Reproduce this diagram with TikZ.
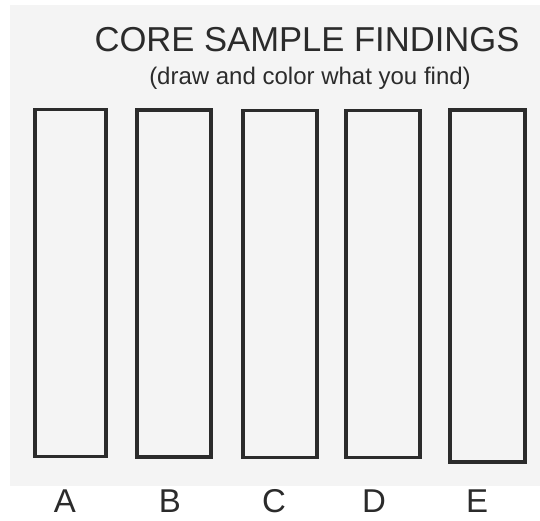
\documentclass[tikz,border=0pt]{standalone}
\usepackage{fontspec}
\setmainfont{Liberation Sans}
\usetikzlibrary{positioning}
\definecolor{inkgray}{HTML}{2B2B2B}
\definecolor{scanpaper}{HTML}{F4F4F4}

\tikzset{
  corebox/.style={draw=inkgray,line width=3.2pt,inner sep=0pt,minimum height=347pt},
  corelabel/.style={inkgray,font=\fontsize{33}{36}\selectfont,inner sep=0pt,anchor=base}
}

\begin{document}
\begin{tikzpicture}[x=1pt,y=-1pt]
\useasboundingbox (0,0) rectangle (540,520);
\fill[scanpaper] (10,5) rectangle (540,486);
\node[inkgray,font=\fontsize{34.6}{38}\selectfont,inner sep=0pt,anchor=base] (title) at (307,51){CORE SAMPLE FINDINGS};
\node[inkgray,font=\fontsize{24}{27}\selectfont,inner sep=0pt,anchor=base] (subtitle) at (310,84){(draw and color what you find)};
\node[corebox,minimum width=71pt] (coreA) at (70.5,283){};
\node[corebox,minimum width=74pt] (coreB) at (174,283.5){};
\node[corebox,minimum width=74pt] (coreC) at (280,284){};
\node[corebox,minimum width=74pt] (coreD) at (383,284){};
\node[corebox,minimum width=75pt,minimum height=352pt] (coreE) at (487.5,286){};
\node[corelabel] (labA) at (65,512){A};
\node[corelabel] (labB) at (170,512){B};
\node[corelabel] (labC) at (274,512){C};
\node[corelabel] (labD) at (374,512){D};
\node[corelabel] (labE) at (477,512){E};
\end{tikzpicture}
\end{document}
